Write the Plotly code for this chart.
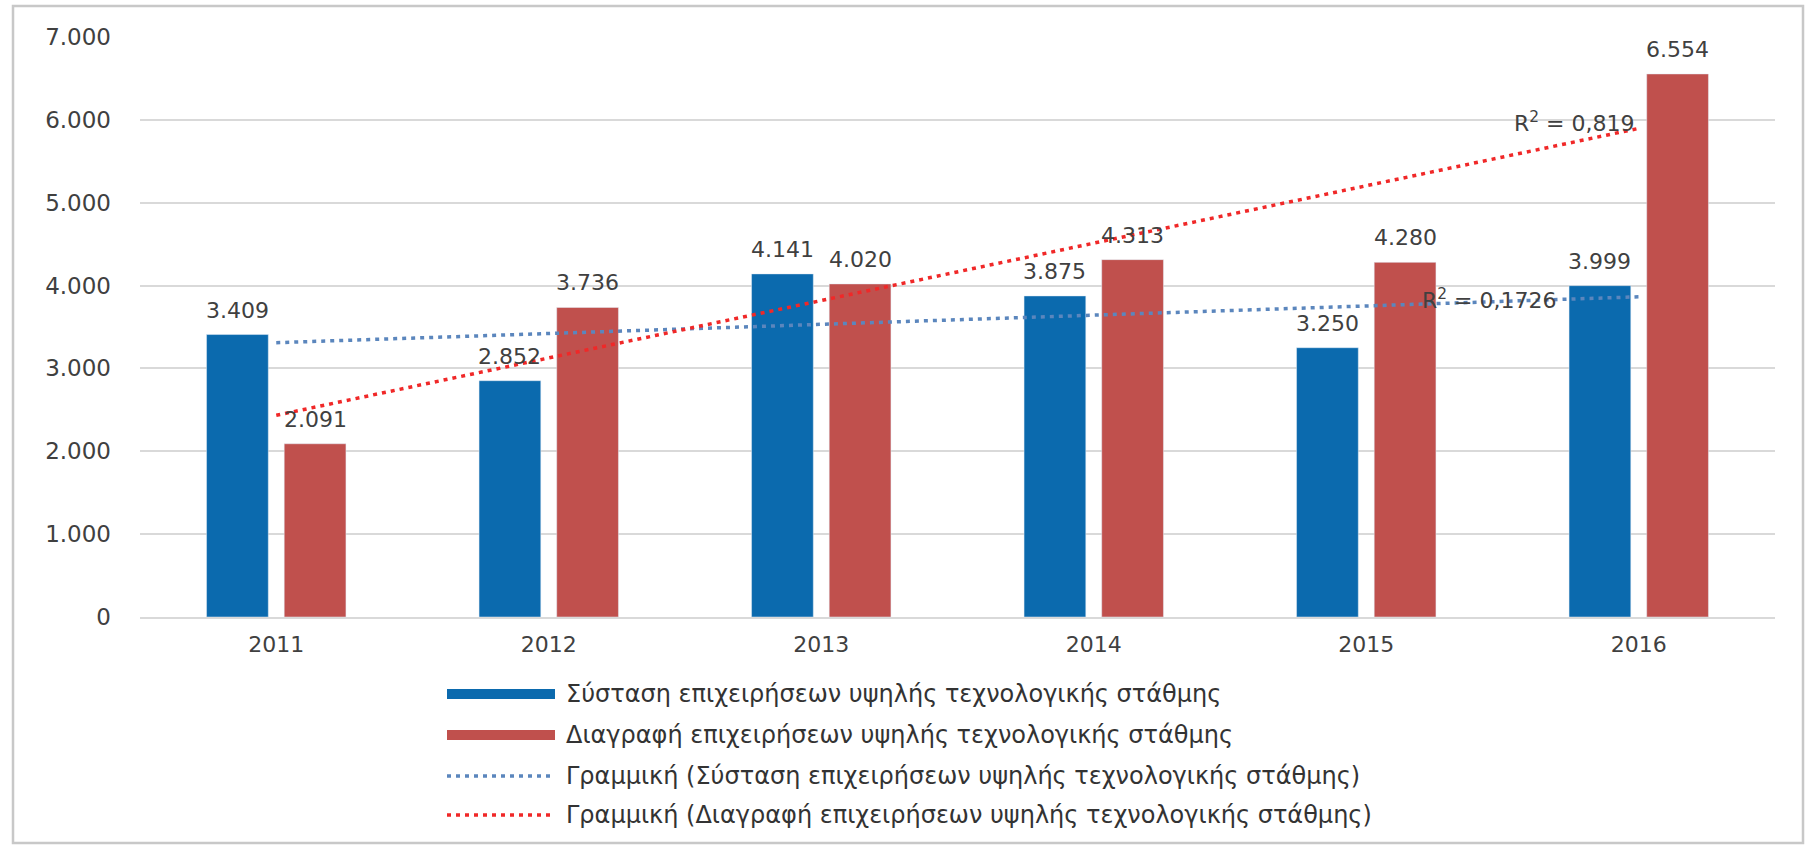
import numpy as np
import plotly.graph_objects as go

# ---- data ----
years = ["2011", "2012", "2013", "2014", "2015", "2016"]
systasi = [3409, 2852, 4141, 3875, 3250, 3999]
diagrafi = [2091, 3736, 4020, 4313, 4280, 6554]
series_names = [
    "Σύσταση επιχειρήσεων υψηλής τεχνολογικής στάθμης",
    "Διαγραφή επιχειρήσεων υψηλής τεχνολογικής στάθμης",
    "Γραμμική (Σύσταση επιχειρήσεων υψηλής τεχνολογικής στάθμης)",
    "Γραμμική (Διαγραφή επιχειρήσεων υψηλής τεχνολογικής στάθμης)",
]
r2_labels = ["0,1726", "0,819"]
y_ticks = [0, 1000, 2000, 3000, 4000, 5000, 6000, 7000]

# ---- styling ----
BLUE = "#0B6AAE"
RED = "#C0504D"
BLUE_TREND = "#5B86BD"
RED_TREND = "#F02828"
TXT = "#404040"
FONT = "DejaVu Sans"

W, H = 1810, 847
L, R, T, B = 140, 35, 37, 230
PW, PH = W - L - R, H - T - B
BARGAP, GROUPGAP = 0.43, 0.205
bar_offset = (PW / len(years)) * (1 - BARGAP) / 4.0


def px_x(p):
    return (p - L) / PW


def px_y(p):
    return (H - B - p) / PH


# linear trend lines (least squares on the series)
idx = np.arange(len(years))
fit_s = np.polyval(np.polyfit(idx, systasi, 1), idx).tolist()
fit_d = np.polyval(np.polyfit(idx, diagrafi, 1), idx).tolist()
last = len(years) - 1

fig = go.Figure()
fig.add_trace(go.Bar(x=years, y=systasi, name=series_names[0], marker_color=BLUE))
fig.add_trace(go.Bar(x=years, y=diagrafi, name=series_names[1], marker_color=RED))
fig.add_trace(go.Scatter(
    x=years, y=fit_s, mode="lines", name=series_names[2],
    line=dict(color=BLUE_TREND, width=3.5, dash="4px,5px"),
))
fig.add_trace(go.Scatter(
    x=years, y=fit_d, mode="lines", name=series_names[3],
    line=dict(color=RED_TREND, width=3.5, dash="4px,5px"),
))

annotations = []
# value labels above the bars
for i in range(len(years)):
    for vals, sgn in ((systasi, -1), (diagrafi, 1)):
        annotations.append(dict(
            x=i, y=vals[i], xref="x", yref="y",
            text=f"{vals[i]:,}".replace(",", "."), showarrow=False,
            xanchor="center", yanchor="bottom",
            xshift=sgn * bar_offset, yshift=10,
            font=dict(size=22, color=TXT, family=FONT)))

annotations += [
    dict(x=last, y=fit_d[-1], xref="x", yref="y",
         text="R<sup>2</sup> = " + r2_labels[1], showarrow=False,
         xanchor="right", yanchor="middle", xshift=-2, yshift=6,
         font=dict(size=22, color=TXT, family=FONT)),
    dict(x=last, y=fit_s[-1], xref="x", yref="y",
         text="R<sup>2</sup> = " + r2_labels[0], showarrow=False,
         xanchor="right", yanchor="middle", xshift=-80, yshift=-2,
         font=dict(size=22, color=TXT, family=FONT)),
]

# manual legend (long symbols as in the original)
shapes = []
rows_px = [694, 735, 776, 815]
sym_x0, sym_x1, txt_x = 447, 555, 564
styles = [
    ("bar", BLUE), ("bar", RED), ("line", BLUE_TREND), ("line", RED_TREND)
]
for (kind, col), ypx, name in zip(styles, rows_px, series_names):
    if kind == "bar":
        shapes.append(dict(type="rect", xref="paper", yref="paper",
                           x0=px_x(sym_x0), x1=px_x(sym_x1),
                           y0=px_y(ypx - 5), y1=px_y(ypx + 5),
                           fillcolor=col, line=dict(width=0)))
    else:
        shapes.append(dict(type="line", xref="paper", yref="paper",
                           x0=px_x(sym_x0), x1=px_x(sym_x1),
                           y0=px_y(ypx), y1=px_y(ypx),
                           line=dict(color=col, width=3.5, dash="4px,5px")))
    annotations.append(dict(x=px_x(txt_x), y=px_y(ypx), xref="paper", yref="paper",
                            text=name, showarrow=False, xanchor="left",
                            yanchor="middle",
                            font=dict(size=24, color="#333333", family=FONT)))

# outer frame
shapes.append(dict(type="rect", xref="paper", yref="paper",
                   x0=px_x(13), x1=px_x(1803), y0=px_y(843), y1=px_y(6),
                   line=dict(color="#C8C8C8", width=2.5), layer="below"))

fig.update_layout(
    width=W, height=H,
    margin=dict(l=L, r=R, t=T, b=B),
    paper_bgcolor="white", plot_bgcolor="white",
    separators=",.",
    barmode="group", bargap=BARGAP, bargroupgap=GROUPGAP,
    showlegend=False,
    font=dict(family=FONT, color=TXT),
    annotations=annotations, shapes=shapes,
)
fig.update_xaxes(
    type="category", range=[-0.5, last + 0.5], autorange=False,
    showgrid=False, showline=True, linecolor="#D9D9D9",
    linewidth=1.5, ticks="", tickfont=dict(size=22, color=TXT, family=FONT),
    ticklabelstandoff=7,
)
fig.update_yaxes(
    range=[0, 7000], autorange=False, tickvals=y_ticks, tickformat=",.0f",
    showgrid=True, gridcolor="#D9D9D9", gridwidth=1.5, zeroline=False,
    showline=False, tickfont=dict(size=23, color=TXT, family=FONT),
    ticklabelstandoff=28,
)

fig.write_html("out.html", config={"displayModeBar": False},
               post_script="document.body.style.margin='0px';")
